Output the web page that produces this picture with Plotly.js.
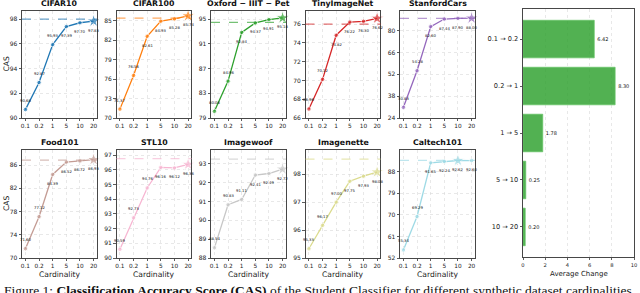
<!DOCTYPE html>
<html><head><meta charset="utf-8">
<script src="https://cdn.plot.ly/plotly-3.0.1.min.js"></script>
<style>html,body{margin:0;padding:0;background:#fff;} #chart{width:640px;height:293px;}</style>
</head><body><div id="chart"></div>
<script>
// ---- data ----
const cardinalities = ['0.1', '0.2', '1', '5', '10', '20'];
const datasetNames = ['CIFAR10', 'CIFAR100', 'Oxford − IIIT − Pet', 'TinyImageNet', 'StanfordCars',
                      'Food101', 'STL10', 'Imagewoof', 'Imagenette', 'Caltech101'];
const cifar10      = [90.68, 92.87, 95.93, 97.39, 97.70, 97.83];
const cifar100     = [71.37, 76.56, 82.61, 84.93, 85.28, 85.74];
const oxfordPet    = [80.08, 84.96, 92.84, 94.37, 94.91, 95.18];
const tinyImageNet = [66.96, 70.12, 74.82, 76.22, 76.30, 76.62];
const stanfordCars = [30.83, 54.28, 82.60, 87.44, 87.90, 88.00];
const food101      = [71.60, 77.12, 84.39, 86.52, 86.72, 86.93];
const stl10        = [90.59, 92.73, 94.76, 96.16, 96.12, 96.36];
const imagewoof    = [88.54, 90.83, 91.11, 92.41, 92.49, 92.72];
const imagenette   = [95.33, 96.17, 97.00, 97.75, 97.93, 98.08];
const caltech101   = [55.34, 69.29, 91.65, 92.24, 92.62, 92.60];
const referenceCAS = [98.0, 85.4, 94.45, 76.0, 87.9, 86.86, 96.75, 93.25, 98.54, 92.7];
const transitions  = ['0.1 → 0.2', '0.2 → 1', '1 → 5', '5 → 10', '10 → 20'];
const avgChange    = [6.42, 8.30, 1.78, 0.25, 0.20];

const series = [cifar10, cifar100, oxfordPet, tinyImageNet, stanfordCars,
                food101, stl10, imagewoof, imagenette, caltech101];

// ---- styling ----
const colors = ['#1f77b4', '#ff7f0e', '#2ca02c', '#d62728', '#9467bd',
                '#c49c94', '#f7b6d2', '#c7c7c7', '#dbdb8d', '#9edae5'];
const yRanges = [[90, 98.65], [70, 86.5], [79, 96.3], [66, 77.4], [24, 92.6],
                 [70, 88.6], [90, 97.34], [88, 93.74], [95, 98.87], [52, 97]];
const yTicks = [[90, 92, 94, 96, 98], [70, 73, 76, 79, 82, 85], [79, 83, 87, 91, 95],
                [66, 68, 70, 72, 74, 76], [24, 38, 52, 66, 80], [70, 74, 78, 82, 86],
                [90, 91, 92, 93, 94, 95, 96, 97], [88, 89, 90, 91, 92, 93], [95, 96, 97, 98],
                [52, 61, 70, 79, 88]];
const labelsAbove = [3, 2, 2, 2, 2, 2, 3, 3, 3, 2];

const W = 640, H = 293;
const colLeft = [22, 116.5, 211, 305.5, 400], plotW = 75;
const rowPx = [[11, 118], [150, 258]];
const fx = p => p / W, fy = p => 1 - p / H;
const FONT = 'DejaVu Sans, sans-serif';
const frame = '#333333';

const data = [], shapes = [], annotations = [];
const layout = {
  width: W, height: H, margin: {l: 0, r: 0, t: 0, b: 0},
  paper_bgcolor: '#fff', plot_bgcolor: '#fff', showlegend: false,
  font: {family: FONT, color: '#222'}
};
function label(x, y, text, size, extra) {
  return Object.assign({xref: 'paper', yref: 'paper', x: x, y: y, text: text,
    xanchor: 'center', yanchor: 'middle', showarrow: false,
    font: {size: size, family: FONT, color: '#222'}}, extra || {});
}

series.forEach((vals, i) => {
  const n = i + 1, key = n === 1 ? '' : n;
  const row = i < 5 ? 0 : 1, col = i % 5;
  const xa = 'x' + key, ya = 'y' + key;
  const maxIdx = vals.indexOf(Math.max(...vals));
  layout['xaxis' + key] = {
    domain: [fx(colLeft[col]), fx(colLeft[col] + plotW)], anchor: ya,
    type: 'category', range: [-0.25, 5.25], fixedrange: true,
    showline: true, mirror: true, linecolor: frame, linewidth: 0.9,
    ticks: 'outside', ticklen: 2.5, tickwidth: 0.8, tickcolor: frame,
    tickfont: {size: 5.8, family: FONT, color: '#222'},
    showgrid: true, gridcolor: '#d8d8d8', gridwidth: 0.6, griddash: 'dot', zeroline: false
  };
  layout['yaxis' + key] = {
    domain: [fy(rowPx[row][1]), fy(rowPx[row][0])], anchor: xa,
    range: yRanges[i], tickvals: yTicks[i], fixedrange: true,
    showline: true, mirror: true, linecolor: frame, linewidth: 0.9,
    ticks: 'outside', ticklen: 2.5, tickwidth: 0.8, tickcolor: frame,
    tickfont: {size: 6, family: FONT, color: '#222'},
    showgrid: true, gridcolor: '#d8d8d8', gridwidth: 0.6, griddash: 'dot', zeroline: false
  };
  shapes.push({
    type: 'line', xref: xa + ' domain', yref: ya, x0: 0, x1: 1,
    y0: referenceCAS[i], y1: referenceCAS[i], opacity: 0.65,
    line: {color: colors[i], width: 1.2, dash: 'dash'}
  });
  data.push({
    type: 'scatter', mode: 'lines+markers', xaxis: xa, yaxis: ya,
    x: cardinalities, y: vals, cliponaxis: false,
    line: {color: colors[i], width: 1.3},
    marker: {color: colors[i],
             symbol: vals.map((v, j) => j === maxIdx ? 'star' : 'circle'),
             size: vals.map((v, j) => j === maxIdx ? 10 : 4.5)}
  });
  vals.forEach((v, j) => {
    annotations.push({
      xref: xa, yref: ya, x: cardinalities.indexOf(cardinalities[j]), y: v, text: v.toFixed(2),
      xanchor: 'center', yanchor: 'middle',
      showarrow: false, yshift: j < labelsAbove[i] ? 9 : -9,
      font: {size: 3.8, family: FONT, color: '#111'}
    });
  });
  annotations.push(label(fx(colLeft[col] + plotW / 2), fy(rowPx[row][0] - 7),
    '<b>' + datasetNames[i] + '</b>', 7.8, {font: {size: 7.8, family: FONT, color: '#111'}}));
  if (row === 1) {
    annotations.push(label(fx(colLeft[col] + plotW / 2), fy(274), 'Cardinality', 7.6));
  }
  if (col === 0) {
    annotations.push(label(fx(6), fy((rowPx[row][0] + rowPx[row][1]) / 2), 'CAS', 7.6,
      {textangle: -90}));
  }
});

// ---- bar chart ----
layout.xaxis11 = {
  domain: [fx(523), fx(634)], anchor: 'y11', range: [0, 10], dtick: 2, fixedrange: true,
  showline: true, mirror: true, linecolor: frame, linewidth: 0.9,
  ticks: 'outside', ticklen: 2.5, tickwidth: 0.8, tickcolor: frame,
  tickfont: {size: 5.2, family: FONT, color: '#222'},
  showgrid: true, gridcolor: '#d8d8d8', gridwidth: 0.6, griddash: 'dot', zeroline: false
};
layout.yaxis11 = {
  domain: [fy(257), fy(9)], anchor: 'x11', type: 'category', range: [4.64, -0.64],
  fixedrange: true, showline: true, mirror: true, linecolor: frame, linewidth: 0.9,
  ticks: 'outside', ticklen: 2.5, tickwidth: 0.8, tickcolor: frame,
  tickfont: {size: 6.6, family: FONT, color: '#222'}, showgrid: false, zeroline: false
};
data.push({
  type: 'bar', orientation: 'h', xaxis: 'x11', yaxis: 'y11',
  x: avgChange, y: transitions, width: 0.8,
  text: avgChange.map(v => v.toFixed(2)), textposition: 'outside', cliponaxis: false,
  textfont: {size: 5, family: FONT, color: '#111'},
  marker: {color: 'rgba(44,160,44,0.82)', line: {color: 'rgba(100,195,100,0.9)', width: 0.8}}
});
annotations.push(label(fx(578.5), fy(273.5), 'Average Change', 7));

// caption (cut off at the bottom edge, as in the reference)
annotations.push({
  xref: 'paper', yref: 'paper', x: fx(2), y: fy(280.5), xanchor: 'left', yanchor: 'top',
  text: 'Figure 1: <b>Classification Accuracy Score (CAS)</b> of the Student Classifier for different synthetic dataset cardinalities',
  showarrow: false, font: {size: 13.5, family: 'Liberation Serif, serif', color: '#111'}
});

layout.shapes = shapes;
layout.annotations = annotations;
Plotly.newPlot('chart', data, layout, {staticPlot: true, displayModeBar: false});
</script></body></html>
